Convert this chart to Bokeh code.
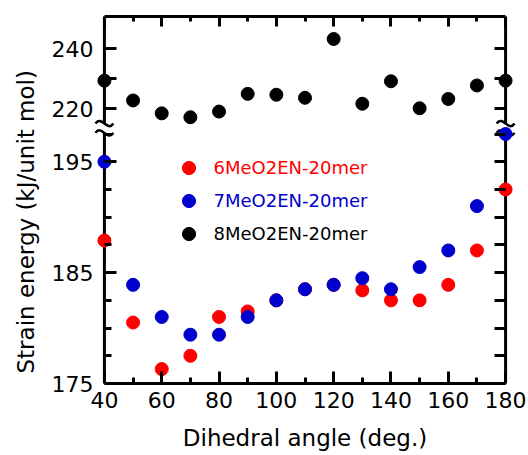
from bokeh.plotting import figure
from bokeh.models import Range1d, LinearAxis, FixedTicker, Legend, LegendItem, Title
from bokeh.embed import file_html
from bokeh.resources import INLINE

# ---------------- data ----------------
angles = [40, 50, 60, 70, 80, 90, 100, 110, 120, 130, 140, 150, 160, 170, 180]
energy_6 = [187.9, 180.5, 176.3, 177.5, 181.0, 181.5, 182.5, 183.5, 183.9, 183.4, 182.5, 182.5, 183.9, 187.0, 192.5]
energy_7 = [195.0, 183.9, 181.0, 179.4, 179.4, 181.0, 182.5, 183.5, 183.9, 184.5, 183.5, 185.5, 187.0, 191.0, 197.5]
energy_8 = [229.3, 222.7, 218.4, 217.1, 219.0, 224.9, 224.6, 223.6, 243.2, 221.6, 229.1, 220.1, 223.2, 227.7, 229.3]
series_names = ["6MeO2EN-20mer", "7MeO2EN-20mer", "8MeO2EN-20mer"]
series_colors = ["#ff0000", "#0000cc", "#000000"]

x_major_ticks = [40, 60, 80, 100, 120, 140, 160, 180]
x_minor_ticks = [50, 70, 90, 110, 130, 150, 170]
y_low_major = [175, 185, 195]
y_low_minor = [177.5, 180, 182.5, 187.5, 190, 192.5, 197.5]
y_up_labeled = [220, 240]
y_up_unlabeled = [230]

x_title = "Dihedral angle (deg.)"
y_title = "Strain energy (kJ/unit mol)"

# ---------------- layout constants ----------------
X_LIMITS = (40, 180)
Y_LOW = (175, 208.1)      # lower segment scale spread over the whole frame
Y_UP = (128.3, 250.7)     # upper segment scale spread over the whole frame
Y_BREAK_LOW = 197.6
Y_BREAK_UP = 215.0
W, H = 528, 455
FRAME_LEFT, FRAME_TOP = 89, 16
PAD = 12
AXIS_SPAN_PX = 404
FRAME_W = AXIS_SPAN_PX + 2 * PAD
FRAME_H = 367
FONT = "DejaVu Sans"

px_x = AXIS_SPAN_PX / (X_LIMITS[1] - X_LIMITS[0])
px_low = FRAME_H / (Y_LOW[1] - Y_LOW[0])
px_up = FRAME_H / (Y_UP[1] - Y_UP[0])
pad_units = PAD / px_x

p = figure(width=W, height=H, output_backend="svg", toolbar_location=None,
           x_range=Range1d(X_LIMITS[0] - pad_units, X_LIMITS[1] + pad_units),
           y_range=Range1d(*Y_LOW),
           x_axis_location=None, y_axis_location=None,
           min_border_left=FRAME_LEFT, min_border_top=FRAME_TOP,
           min_border_right=W - FRAME_LEFT - FRAME_W,
           min_border_bottom=H - FRAME_TOP - FRAME_H,
           outline_line_color=None, background_fill_color="white",
           border_fill_color="white")
p.extra_y_ranges = {"upper": Range1d(*Y_UP)}
p.grid.visible = False


def to_low(v):
    return Y_LOW[0] + (v - Y_UP[0]) * (Y_LOW[1] - Y_LOW[0]) / (Y_UP[1] - Y_UP[0])


up_pos = [round(to_low(v), 6) for v in y_up_labeled + y_up_unlabeled]
overrides = {round(to_low(v), 6): str(v) for v in y_up_labeled}
overrides.update({round(to_low(v), 6): "" for v in y_up_unlabeled})

# left axis
left = LinearAxis(ticker=FixedTicker(ticks=y_low_major + up_pos, minor_ticks=y_low_minor),
                  axis_line_color=None,
                  major_tick_in=PAD + 12, major_tick_out=-PAD,
                  minor_tick_in=PAD + 7, minor_tick_out=-PAD,
                  major_tick_line_width=3, minor_tick_line_width=3,
                  major_label_text_font=FONT, major_label_text_font_size="22px",
                  major_label_text_color="black",
                  major_label_standoff=11, major_label_overrides=overrides)
p.add_layout(left, "left")

# right axis (ticks only)
right = LinearAxis(ticker=FixedTicker(ticks=y_low_major + y_low_minor + up_pos),
                   axis_line_color=None,
                   major_tick_in=PAD + 11, major_tick_out=-PAD,
                   minor_tick_in=0, minor_tick_out=0,
                   major_tick_line_width=3,
                   major_label_text_font_size="0px", major_label_text_alpha=0,
                   major_label_text_color=None, major_label_standoff=0)
p.add_layout(right, "right")

# top axis (ticks only)
top = LinearAxis(ticker=FixedTicker(ticks=x_major_ticks, minor_ticks=x_minor_ticks),
                 bounds=X_LIMITS, axis_line_width=3,
                 major_tick_in=10, major_tick_out=0, minor_tick_in=5, minor_tick_out=0,
                 major_tick_line_width=3, minor_tick_line_width=3,
                 major_label_text_font_size="0px", major_label_text_alpha=0,
                 major_label_text_color=None, major_label_standoff=0)
p.add_layout(top, "above")

# bottom axis with its title
bottom = LinearAxis(ticker=FixedTicker(ticks=x_major_ticks, minor_ticks=x_minor_ticks),
                    bounds=X_LIMITS, axis_line_width=3,
                    major_tick_in=12, major_tick_out=0, minor_tick_in=6, minor_tick_out=0,
                    major_tick_line_width=3, minor_tick_line_width=3,
                    major_label_text_font=FONT, major_label_text_font_size="22px",
                    major_label_text_color="black",
                    major_label_standoff=8,
                    axis_label=x_title, axis_label_standoff=14,
                    axis_label_text_font=FONT, axis_label_text_font_size="23px",
                    axis_label_text_font_style="normal", axis_label_text_color="black")
p.add_layout(bottom, "below")

# y title
p.add_layout(Title(text=y_title, align="left", offset=10, standoff=20,
                   vertical_align="bottom", text_font=FONT, text_font_size="23px",
                   text_font_style="normal", text_color="black"), "left")

# broken vertical axis lines
p.segment(x0=list(X_LIMITS), y0=[Y_LOW[0]] * 2, x1=list(X_LIMITS), y1=[Y_BREAK_LOW] * 2,
          line_width=3, line_color="black")
p.segment(x0=list(X_LIMITS), y0=[Y_BREAK_UP] * 2, x1=list(X_LIMITS), y1=[Y_UP[1]] * 2,
          line_width=3, line_color="black", y_range_name="upper")

# break marks
dx = 9 / px_x
c_low = 9 / px_low
c_up = 9 / px_up
p.bezier(x0=[x - dx for x in X_LIMITS], y0=[Y_BREAK_LOW] * 2,
         x1=[x + dx for x in X_LIMITS], y1=[Y_BREAK_LOW] * 2,
         cx0=[x - dx / 3 for x in X_LIMITS], cy0=[Y_BREAK_LOW + c_low] * 2,
         cx1=[x + dx / 3 for x in X_LIMITS], cy1=[Y_BREAK_LOW - c_low] * 2,
         line_width=2.5, line_color="black")
p.bezier(x0=[x - dx for x in X_LIMITS], y0=[Y_BREAK_UP] * 2,
         x1=[x + dx for x in X_LIMITS], y1=[Y_BREAK_UP] * 2,
         cx0=[x - dx / 3 for x in X_LIMITS], cy0=[Y_BREAK_UP + c_up] * 2,
         cx1=[x + dx / 3 for x in X_LIMITS], cy1=[Y_BREAK_UP - c_up] * 2,
         line_width=2.5, line_color="black", y_range_name="upper")

# data points
r6 = p.scatter(angles, energy_6, size=13, fill_color=series_colors[0], line_color=series_colors[0])
r7 = p.scatter(angles, energy_7, size=13, fill_color=series_colors[1], line_color=series_colors[1])
r8 = p.scatter(angles, energy_8, size=13, fill_color=series_colors[2], line_color=series_colors[2],
               y_range_name="upper")

# legends (one per series, so each label gets its own colour)
LEG_X = 79.5
LEG_ROW = 33
LEG_BOTTOM0 = 199.5
for i, (name, col, r) in enumerate(zip(series_names, series_colors, [r6, r7, r8])):
    leg = Legend(items=[LegendItem(label=name, renderers=[r])],
                 location=(LEG_X, LEG_BOTTOM0 - i * LEG_ROW),
                 glyph_width=LEG_ROW, glyph_height=LEG_ROW, label_height=LEG_ROW,
                 label_standoff=9, padding=0, margin=0, spacing=0,
                 border_line_color=None, background_fill_alpha=0,
                 label_text_font=FONT, label_text_font_size="18px",
                 label_text_color=col)
    p.add_layout(leg)

open("out.html", "w").write(file_html(p, INLINE))
